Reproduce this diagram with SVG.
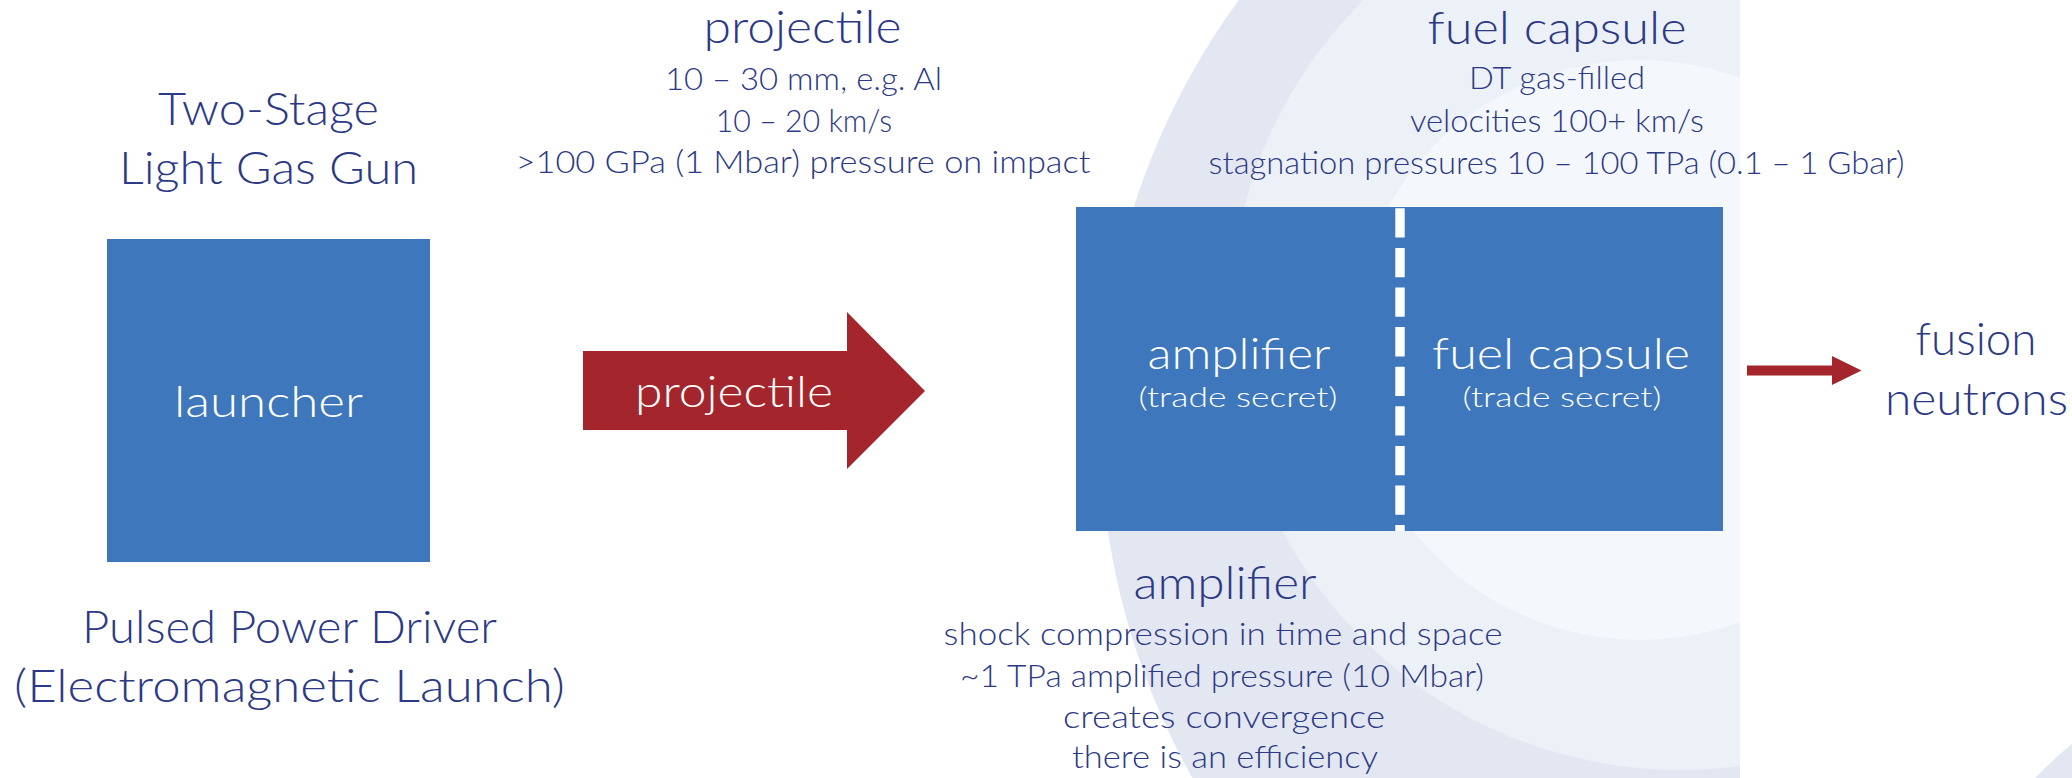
<svg xmlns="http://www.w3.org/2000/svg" width="2072" height="778" viewBox="0 0 2072 778">
  <style>
    text { font-family: Lato, "Liberation Sans", Arial, sans-serif; font-weight: 300; text-anchor: middle; }
    .navy { fill: #2c3985; }
    .white { fill: #ffffff; }
    .title { font-size: 45px; }
    .sub { font-size: 31px; }
    .inbox { font-size: 43px; }
    .small { font-size: 28px; }
    .box { fill: #3e77bb; }
    .red { fill: #a4262c; }
  </style>
  <defs>
    <clipPath id="bgclip"><rect x="0" y="0" width="1740" height="778"/></clipPath>
  </defs>
  <rect x="0" y="0" width="2072" height="778" fill="#ffffff"/>
  <g id="background">
    <g clip-path="url(#bgclip)">
      <circle cx="1820" cy="425" r="720" fill="#e3e7f1"/>
      <circle cx="1680" cy="320" r="450" fill="#ecf0f7"/>
      <circle cx="1640" cy="350" r="290" fill="#f4f7fb"/>
    </g>
    <circle cx="2330" cy="1060" r="408" fill="#e3e7f1"/>
  </g>

  <g id="launcher-node">
    <text class="navy title" x="268.5" y="125" textLength="221" lengthAdjust="spacingAndGlyphs">Two-Stage</text>
    <text class="navy title" x="268.5" y="184" textLength="299" lengthAdjust="spacingAndGlyphs">Light Gas Gun</text>
    <rect class="box" x="107" y="239" width="323" height="323"/>
    <text class="white inbox" x="268.5" y="416.5" textLength="189" lengthAdjust="spacingAndGlyphs">launcher</text>
    <text class="navy title" x="289.5" y="643" textLength="415" lengthAdjust="spacingAndGlyphs">Pulsed Power Driver</text>
    <text class="navy title" x="289.5" y="702" textLength="551" lengthAdjust="spacingAndGlyphs">(Electromagnetic Launch)</text>
  </g>

  <g id="projectile-info">
    <text class="navy title" x="802.5" y="43" textLength="198" lengthAdjust="spacingAndGlyphs">projectile</text>
    <text class="navy sub" x="803.5" y="90" textLength="277" lengthAdjust="spacingAndGlyphs">10 – 30 mm, e.g. Al</text>
    <text class="navy sub" x="804" y="132" textLength="176.5" lengthAdjust="spacingAndGlyphs">10 – 20 km/s</text>
    <text class="navy sub" x="803" y="173" textLength="575" lengthAdjust="spacingAndGlyphs">&gt;100 GPa (1 Mbar) pressure on impact</text>
  </g>

  <g id="fuel-capsule-info">
    <text class="navy title" x="1557" y="44" textLength="259" lengthAdjust="spacingAndGlyphs">fuel capsule</text>
    <text class="navy sub" x="1557" y="89" textLength="176" lengthAdjust="spacingAndGlyphs">DT gas-filled</text>
    <text class="navy sub" x="1557" y="132" textLength="294" lengthAdjust="spacingAndGlyphs">velocities 100+ km/s</text>
    <text class="navy sub" x="1556.5" y="174" textLength="696" lengthAdjust="spacingAndGlyphs">stagnation pressures 10 – 100 TPa (0.1 – 1 Gbar)</text>
  </g>

  <g id="target-node">
    <rect class="box" x="1076" y="207" width="647" height="324"/>
    <line x1="1400" y1="208.3" x2="1400" y2="531" stroke="#ffffff" stroke-width="9.4" stroke-dasharray="29.3 10.3"/>
    <g id="amplifier-node">
      <text class="white inbox" x="1239" y="369" textLength="183" lengthAdjust="spacingAndGlyphs">amplifier</text>
      <text class="white small" x="1238" y="407" textLength="199" lengthAdjust="spacingAndGlyphs">(trade secret)</text>
    </g>
    <g id="fuel-capsule-node">
      <text class="white inbox" x="1561" y="369" textLength="258" lengthAdjust="spacingAndGlyphs">fuel capsule</text>
      <text class="white small" x="1562" y="407" textLength="199" lengthAdjust="spacingAndGlyphs">(trade secret)</text>
    </g>
  </g>

  <g id="amplifier-info">
    <text class="navy title" x="1225" y="599" textLength="183" lengthAdjust="spacingAndGlyphs">amplifier</text>
    <text class="navy sub" x="1223" y="645" textLength="559" lengthAdjust="spacingAndGlyphs">shock compression in time and space</text>
    <text class="navy sub" x="1222" y="687" textLength="524" lengthAdjust="spacingAndGlyphs">~1 TPa amplified pressure (10 Mbar)</text>
    <text class="navy sub" x="1224" y="728" textLength="322" lengthAdjust="spacingAndGlyphs">creates convergence</text>
    <text class="navy sub" x="1225" y="768" textLength="306" lengthAdjust="spacingAndGlyphs">there is an efficiency</text>
  </g>

  <g id="fusion-node">
    <text class="navy title" x="1976" y="355" textLength="121" lengthAdjust="spacingAndGlyphs">fusion</text>
    <text class="navy title" x="1976.5" y="415" textLength="183" lengthAdjust="spacingAndGlyphs">neutrons</text>
  </g>

  <g id="connectors">
    <g id="projectile-arrow">
      <polygon class="red" points="583,351 847,351 847,312 925,391 847,469 847,430 583,430"/>
      <text class="white inbox" x="734" y="407" textLength="198" lengthAdjust="spacingAndGlyphs">projectile</text>
    </g>
    <polygon id="neutron-arrow" class="red" points="1747,365.5 1832,365.5 1832,356 1861.5,370.5 1832,385 1832,375.5 1747,375.5"/>
  </g>
</svg>
